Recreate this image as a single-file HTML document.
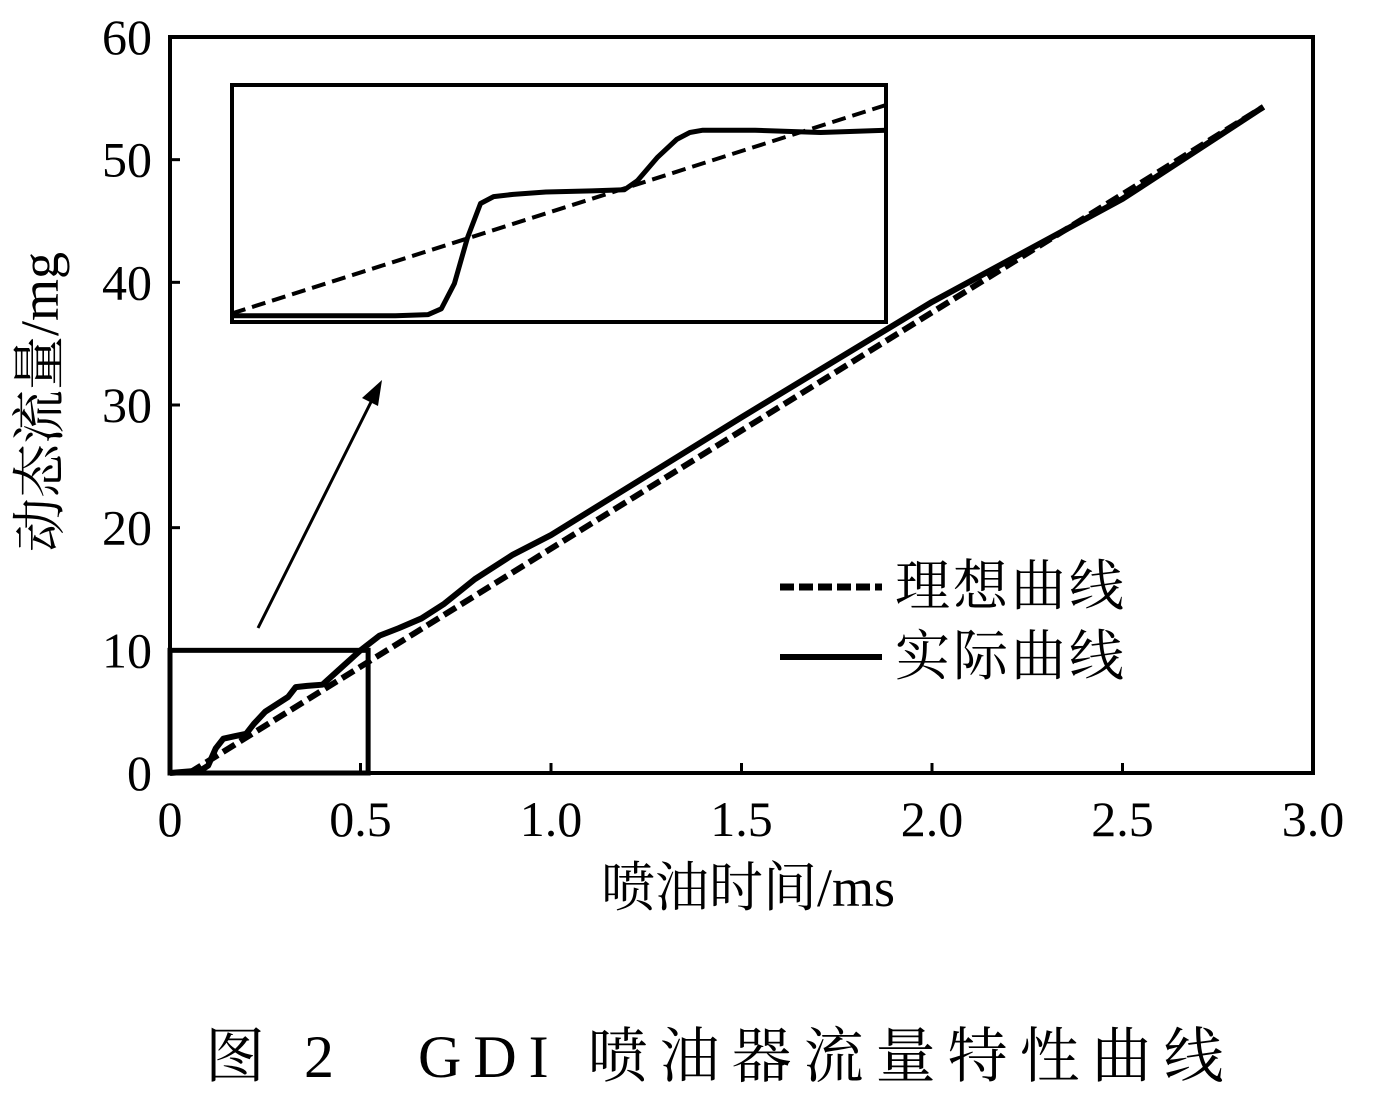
<!DOCTYPE html>
<html><head><meta charset="utf-8"><style>
html,body{margin:0;padding:0;background:#fff;}
svg{display:block;font-family:"Liberation Serif","Noto Serif CJK SC",serif;}
</style></head><body>
<svg id="chart" width="1377" height="1095" viewBox="0 0 1377 1095"></svg>
<script>
const xTicks=[0,0.5,1.0,1.5,2.0,2.5,3.0];
const xTickLabels=["0","0.5","1.0","1.5","2.0","2.5","3.0"];
const yTicks=[0,10,20,30,40,50,60];
const idealX=[0.05,2.87];
const idealY=[0,54.3];
const actualX=[0,0.08,0.1,0.12,0.14,0.17,0.2,0.22,0.25,0.28,0.31,0.33,0.36,0.4,0.45,0.5,0.55,0.6,0.66,0.72,0.8,0.9,1.0,1.5,2.0,2.5,2.87];
const actualY=[0,0.2,0.6,2.0,2.8,3.0,3.2,4.0,5.0,5.6,6.2,7.0,7.1,7.2,8.6,10.0,11.2,11.8,12.6,13.8,15.8,17.8,19.4,29.0,38.4,46.8,54.3];
const insetIdealX=[0,100];
const insetIdealY=[2,93];
const insetActualX=[0,15,25,30,32,34,36,38,40,43,48,55,60,62,65,68,70,72,75,80,90,100];
const insetActualY=[1,1,1,1.5,4,15,35,50,53,54,55,55.5,56,60,70,78,81,82,82,82,81,82];
const NS="http://www.w3.org/2000/svg";
const svg=document.getElementById('chart');
const L=170,R=1313,T=37,B=773;
const xs=v=>L+v/3*(R-L);
const ys=v=>B-v/60*(B-T);
const iL=232,iR=886,iT=85,iB=322;
const ixs=v=>iL+v/100*(iR-iL);
const iys=v=>iB-4-v/100*(iB-iT-8);
function mk(tag,attrs){const e=document.createElementNS(NS,tag);for(const k in attrs)e.setAttribute(k,attrs[k]);svg.appendChild(e);return e;}
let e;
e=mk('rect',{x:L,y:T,width:R-L,height:B-T,fill:'none',stroke:'#000','stroke-width':4});

xTicks.forEach((t,i)=>{
 e=mk('line',{x1:xs(t),x2:xs(t),y1:B,y2:B-10,stroke:'#000','stroke-width':3});
 
 e=mk('text',{x:xs(t),y:836,'text-anchor':'middle','font-size':50});e.textContent=xTickLabels[i];
 
});
yTicks.forEach(t=>{
 e=mk('line',{x1:L,x2:L+10,y1:ys(t),y2:ys(t),stroke:'#000','stroke-width':3});
 
 e=mk('text',{x:152,y:ys(t)+17,'text-anchor':'end','font-size':50});e.textContent=String(t);
 
});
e=mk('polyline',{points:idealX.map((x,i)=>xs(x)+','+ys(idealY[i])).join(' '),fill:'none',stroke:'#000','stroke-width':6,'stroke-dasharray':'14,6'});

e=mk('polyline',{points:actualX.map((x,i)=>xs(x)+','+ys(actualY[i])).join(' '),fill:'none',stroke:'#000','stroke-width':6,'stroke-linejoin':'round'});

e=mk('rect',{x:L,y:ys(10),width:xs(0.52)-L,height:B-ys(10),fill:'none',stroke:'#000','stroke-width':5});

e=mk('line',{x1:258,y1:628,x2:372,y2:400,stroke:'#000','stroke-width':3});

e=mk('polygon',{points:'382,380 362,398 378,406',fill:'#000'});

e=mk('rect',{x:iL,y:iT,width:iR-iL,height:iB-iT,fill:'#fff',stroke:'#000','stroke-width':4});

e=mk('polyline',{points:insetIdealX.map((x,i)=>ixs(x)+','+iys(insetIdealY[i])).join(' '),fill:'none',stroke:'#000','stroke-width':4,'stroke-dasharray':'14,7'});

e=mk('polyline',{points:insetActualX.map((x,i)=>ixs(x)+','+iys(insetActualY[i])).join(' '),fill:'none',stroke:'#000','stroke-width':5,'stroke-linejoin':'round'});

e=mk('line',{x1:780,x2:882,y1:587,y2:587,stroke:'#000','stroke-width':7,'stroke-dasharray':'14,5'});

e=mk('text',{x:895,y:605,'font-size':55,'letter-spacing':3});e.textContent='理想曲线';

e=mk('line',{x1:780,x2:882,y1:657,y2:657,stroke:'#000','stroke-width':6});

e=mk('text',{x:895,y:675,'font-size':55,'letter-spacing':3});e.textContent='实际曲线';

e=mk('text',{x:748,y:906,'text-anchor':'middle','font-size':54});e.textContent='喷油时间/ms';

e=mk('text',{x:0,y:0,'text-anchor':'middle','font-size':54,transform:'translate(58,402) rotate(-90)'});e.textContent='动态流量/mg';

e=mk('text',{x:205,y:1077,'font-size':60,'letter-spacing':12});e.textContent='图 2　GDI 喷油器流量特性曲线';

</script>
</body></html>
